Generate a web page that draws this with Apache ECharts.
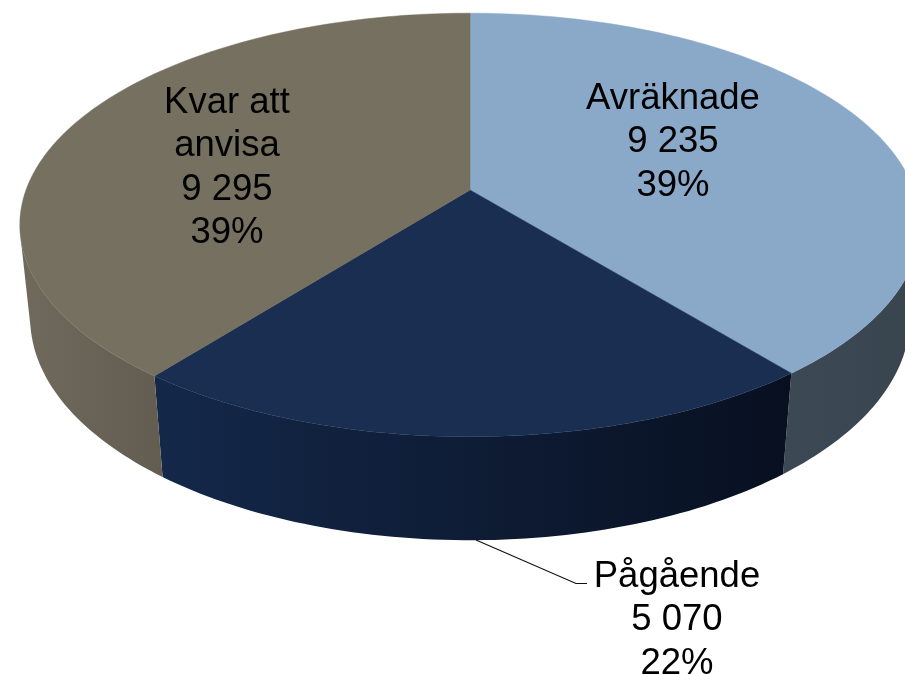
<!DOCTYPE html>
<html>
<head>
<meta charset="utf-8">
<title>Pie</title>
<style>
html,body{margin:0;padding:0;background:#fff;}
#chart-container{width:905px;height:674px;}
</style>
<script src="https://cdn.jsdelivr.net/npm/echarts@6/dist/echarts.min.js"></script>
</head>
<body>
<div id="chart-container"></div>
<script>
var categories = ['Avräknade', 'Pågående', 'Kvar att\nanvisa'];
var values = [9235, 5070, 9295];
var percents = ['39%', '22%', '39%'];

var topColors = ['#8aa8c8', '#192e51', '#75705f'];
var sideColors = [
    ['#3c4955', '#39444e'],
    ['#14284a', '#081020'],
    ['#6f6a5c', '#625d50']
];
var labelPos = [[673, 142], [677, 620], [227, 168]];

// projection of the round pie, fitted by eye to the picture
var cx = 470, cy = 190, A = 444, B = 206, D = 94.5, k = 0.165, m = 0.023;

var total = values.reduce(function(a, b){ return a + b; }, 0);

function project(angle, r, h){
    var u = Math.sin(angle) * r;
    var v = -Math.cos(angle) * r;
    var w = 1 - k * v + m * h;
    return [cx + A * u / w, cy + (B * v + D * h) / w];
}
function startAngle(idx){
    var sum = 0;
    for(var i = 0; i < idx; i++) sum += values[i];
    return sum / total * Math.PI * 2;
}
function arc(a0, a1, h){
    var pts = [];
    var n = Math.ceil((a1 - a0) / 0.02);
    for(var i = 0; i <= n; i++){
        pts.push(project(a0 + (a1 - a0) * i / n, 1, h));
    }
    return pts;
}
function formatValue(v){
    return String(v).replace(/\B(?=(\d{3})+$)/g, ' ');
}

function renderSide(params, api){
    var a0 = startAngle(params.dataIndex);
    var a1 = a0 + api.value(0) / total * Math.PI * 2;
    var upper = arc(a0, a1, 0);
    var lower = arc(a0, a1, 1);
    // keep only the part of the wall that faces the viewer
    var topEdge = [], bottomEdge = [];
    for(var i = 0; i < upper.length - 1; i++){
        var tx = upper[i + 1][0] - upper[i][0], ty = upper[i + 1][1] - upper[i][1];
        var rx = lower[i][0] - upper[i][0], ry = lower[i][1] - upper[i][1];
        if(tx * ry - ty * rx < 0){
            topEdge.push(upper[i], upper[i + 1]);
            bottomEdge.push(lower[i], lower[i + 1]);
        }
    }
    var c = sideColors[params.dataIndex];
    return {
        type: 'polygon',
        shape: {points: topEdge.concat(bottomEdge.reverse())},
        style: {
            fill: new echarts.graphic.LinearGradient(0, 0, 1, 0, [
                {offset: 0, color: c[0]},
                {offset: 1, color: c[1]}
            ])
        }
    };
}
function renderTop(params, api){
    var a0 = startAngle(params.dataIndex);
    var a1 = a0 + api.value(0) / total * Math.PI * 2;
    var pts = [project(0, 0, 0)].concat(arc(a0, a1, 0));
    var color = topColors[params.dataIndex];
    return {
        type: 'polygon',
        shape: {points: pts},
        style: {fill: color, stroke: color, lineWidth: 0.5}
    };
}
function renderLabel(params, api){
    var i = params.dataIndex;
    return {
        type: 'text',
        style: {
            x: labelPos[i][0],
            y: labelPos[i][1],
            text: categories[i] + '\n' + formatValue(api.value(0)) + '\n' + percents[i],
            fill: '#000',
            font: '36.5px "Liberation Sans"',
            lineHeight: 43.5,
            align: 'center',
            verticalAlign: 'middle'
        }
    };
}

var option = {
    animation: false,
    tooltip: {show: false},
    series: [
        {type: 'custom', coordinateSystem: 'none', data: values, renderItem: renderSide, silent: true, z: 1},
        {type: 'custom', coordinateSystem: 'none', data: values, renderItem: renderTop, silent: true, z: 2},
        {type: 'custom', coordinateSystem: 'none', data: values, renderItem: renderLabel, silent: true, z: 4}
    ],
    graphic: [{
        // leader line of Pågående
        type: 'polyline',
        z: 3,
        shape: {points: [[476, 540], [576, 583.5], [587, 583.5]]},
        style: {stroke: '#111', lineWidth: 1.2, fill: null}
    }]
};
var myChart = echarts.init(document.getElementById('chart-container'));
myChart.setOption(option);
</script>
</body>
</html>
